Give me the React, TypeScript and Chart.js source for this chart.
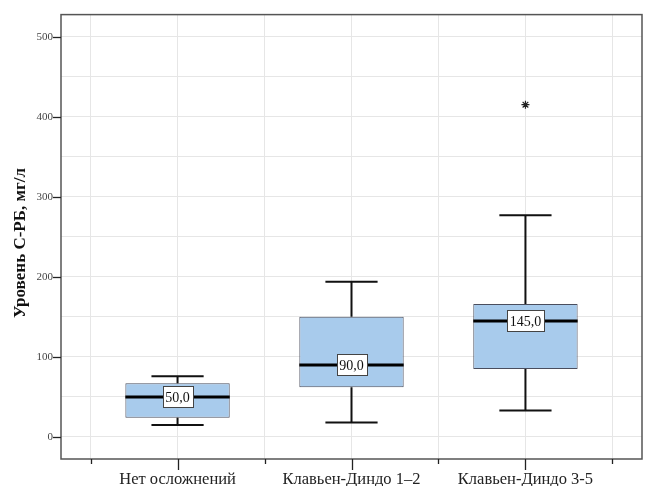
import React, { useEffect, useRef } from "react";
import { Chart, registerables } from "chart.js";

Chart.register(...registerables);

const categories = ["Нет осложнений", "Клавьен-Диндо 1–2", "Клавьен-Диндо 3-5"];
const whiskerLow = [15, 18, 33];
const q1 = [24, 62, 85];
const median = [50, 90, 145];
const q3 = [67, 150, 166];
const whiskerHigh = [76, 194, 277];
const medianLabels = ["50,0", "90,0", "145,0"];
const outlierCats = [2];
const outlierValues = [415];
const yTickValues = [0, 50, 100, 150, 200, 250, 300, 350, 400, 450, 500];
const yTitle = "Уровень С-РБ, мг/л";

const SERIF = "'Liberation Serif', 'Times New Roman', serif";

const boxPlugin = {
  id: "boxExtras",
  afterDatasetsDraw(chart: any) {
    const { ctx } = chart;
    const xs = chart.scales.x;
    const ys = chart.scales.y;
    ctx.save();
    const unit = xs.getPixelForValue(1) - xs.getPixelForValue(0);
    const capHalf = unit * 0.15;
    const boxHalf = unit * 0.3;
    categories.forEach((_, i) => {
      const cx = xs.getPixelForValue(i);
      ctx.strokeStyle = "#111";
      ctx.lineWidth = 2;
      ctx.beginPath();
      ctx.moveTo(cx, ys.getPixelForValue(q3[i]));
      ctx.lineTo(cx, ys.getPixelForValue(whiskerHigh[i]));
      ctx.moveTo(cx, ys.getPixelForValue(q1[i]));
      ctx.lineTo(cx, ys.getPixelForValue(whiskerLow[i]));
      ctx.stroke();
      ctx.beginPath();
      const yh = ys.getPixelForValue(whiskerHigh[i]);
      const yl = ys.getPixelForValue(whiskerLow[i]);
      ctx.moveTo(cx - capHalf, yh);
      ctx.lineTo(cx + capHalf, yh);
      ctx.moveTo(cx - capHalf, yl);
      ctx.lineTo(cx + capHalf, yl);
      ctx.stroke();
      const ym = ys.getPixelForValue(median[i]);
      ctx.lineWidth = 3;
      ctx.strokeStyle = "#000";
      ctx.beginPath();
      ctx.moveTo(cx - boxHalf, ym);
      ctx.lineTo(cx + boxHalf, ym);
      ctx.stroke();
      ctx.font = `14px ${SERIF}`;
      const tw = ctx.measureText(medianLabels[i]).width;
      const w = Math.round(tw + 5);
      const h = 21;
      const lx = Math.round(cx - w / 2);
      const ly = Math.round(ym - h / 2);
      ctx.fillStyle = "#fff";
      ctx.fillRect(lx, ly, w, h);
      ctx.lineWidth = 1;
      ctx.strokeStyle = "#444";
      ctx.strokeRect(lx + 0.5, ly + 0.5, w, h);
      ctx.fillStyle = "#111";
      ctx.textAlign = "center";
      ctx.textBaseline = "middle";
      ctx.fillText(medianLabels[i], cx, ym + 1);
    });
    ctx.restore();
  },
  afterDraw(chart: any) {
    const { ctx, chartArea } = chart;
    const xs = chart.scales.x;
    const ys = chart.scales.y;
    ctx.save();
    ctx.strokeStyle = "#555";
    ctx.lineWidth = 1.5;
    ctx.strokeRect(chartArea.left, chartArea.top, chartArea.right - chartArea.left, chartArea.bottom - chartArea.top);
    ctx.lineWidth = 1.3;
    ctx.strokeStyle = "#222";
    yTickValues.forEach((v) => {
      if (v % 100 !== 0) return;
      const y = Math.round(ys.getPixelForValue(v)) + 0.5;
      ctx.beginPath();
      ctx.moveTo(chartArea.left - 8, y);
      ctx.lineTo(chartArea.left, y);
      ctx.stroke();
    });
    xs.ticks.forEach((t: any) => {
      const x = Math.round(xs.getPixelForValue(t.value)) + 0.5;
      const major = Number.isInteger(t.value);
      ctx.beginPath();
      ctx.moveTo(x, chartArea.bottom);
      ctx.lineTo(x, chartArea.bottom + (major ? 11 : 5));
      ctx.stroke();
    });
    ctx.translate(21, 243);
    ctx.rotate(-Math.PI / 2);
    ctx.font = `bold 17px ${SERIF}`;
    ctx.fillStyle = "#111";
    ctx.textAlign = "center";
    ctx.textBaseline = "middle";
    ctx.fillText(yTitle, 0, 0);
    ctx.restore();
  },
};

export default function App() {
  const ref = useRef<HTMLCanvasElement | null>(null);
  useEffect(() => {
    if (!ref.current) return;
    const chart = new Chart(ref.current, {
      type: "bar",
      data: {
        datasets: [
          {
            type: "bar",
            data: categories.map((_, i) => ({ x: i, y: [q1[i], q3[i]] })) as any,
            backgroundColor: "#a8cbec",
            borderColor: "#4a4e5e",
            borderWidth: 1,
            borderSkipped: false,
            barPercentage: 1.2,
            categoryPercentage: 1,
          } as any,
          {
            type: "scatter",
            data: outlierCats.map((c, i) => ({ x: c, y: outlierValues[i] })),
            pointStyle: "star",
            radius: 4,
            borderColor: "#222",
            borderWidth: 1.2,
            backgroundColor: "#222",
          } as any,
        ],
      },
      options: {
        animation: false,
        responsive: false,
        layout: { padding: { top: 12, right: 11, left: 0, bottom: 0 } },
        plugins: { legend: { display: false }, tooltip: { enabled: false }, title: { display: false } },
        scales: {
          x: {
            type: "linear",
            min: -0.67,
            max: 2.67,
            offset: false,
            grid: { color: "#e6e6e6", drawTicks: false, offset: false },
            border: { display: false },
            afterBuildTicks: (s: any) => {
              s.ticks = [-0.5, 0, 0.5, 1, 1.5, 2, 2.5].map((v) => ({ value: v }));
            },
            afterFit: (s: any) => {
              s.height = 27;
            },
            ticks: {
              autoSkip: false,
              maxRotation: 0,
              padding: 11,
              color: "#222",
              font: { family: SERIF, size: 16.5 },
              callback: (v: any) => (Number.isInteger(v) ? categories[v] : ""),
            },
          },
          y: {
            type: "linear",
            min: -27.5,
            max: 527.5,
            grid: { color: "#e6e6e6", drawTicks: false },
            border: { display: false },
            afterBuildTicks: (s: any) => {
              s.ticks = yTickValues.map((v) => ({ value: v }));
            },
            afterFit: (s: any) => {
              s.width = 61;
            },
            ticks: {
              padding: 8,
              color: "#444",
              font: { family: SERIF, size: 11 },
              callback: (v: any) => (v % 100 === 0 ? String(v) : ""),
            },
          },
        },
      } as any,
      plugins: [boxPlugin],
    });
    return () => chart.destroy();
  }, []);
  return (
    <div style={{ position: "absolute", left: 0, top: 0, width: 653, height: 486, background: "#fff" }}>
      <canvas ref={ref} width={653} height={486} />
    </div>
  );
}
